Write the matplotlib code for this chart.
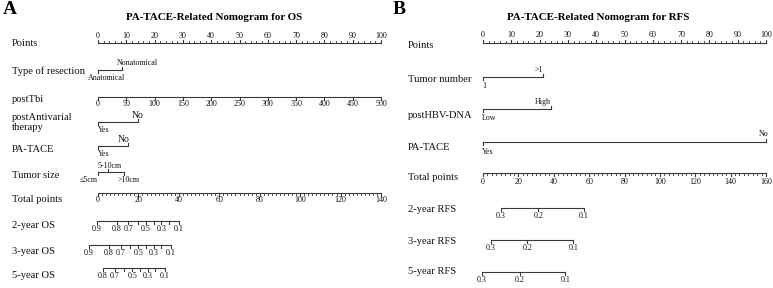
import numpy as np
import matplotlib
matplotlib.use("Agg")
import matplotlib.pyplot as plt
from matplotlib import transforms

plt.rcParams['font.family'] = ['Liberation Serif', 'DejaVu Serif']

# ---------------- data ----------------
points_ticks = list(range(0, 101, 10))

# Panel A (OS)
resection_levels = ['Anatomical', 'Nonatomical']
resection_points = [0, 8.5]
tbi_labels = [0, 50, 100, 150, 200, 250, 300, 350, 400, 450, 500]
tbi_points = [0, 10, 20, 30, 40, 50, 60, 70, 80, 90, 100]
antiviral_levels = ['Yes', 'No']
antiviral_points = [0, 14.1]
patace_a_levels = ['Yes', 'No']
patace_a_points = [0, 10.6]
size_levels = ['≤5cm', '5-10cm', '>10cm']
size_points = [0, 3.5, 9.2]
total_a_ticks = [0, 20, 40, 60, 80, 100, 120, 140]
os_probs = [0.9, 0.8, 0.7, 0.6, 0.5, 0.4, 0.3, 0.2, 0.1]
os2_total = [-0.7, 9.2, 15.0, 19.7, 23.8, 27.6, 31.4, 35.2, 40.0]
os3_total = [-4.5, 5.4, 11.2, 15.9, 20.0, 23.8, 27.6, 31.4, 36.2]
os5_probs = [0.8, 0.7, 0.6, 0.5, 0.4, 0.3, 0.2, 0.1]
os5_total = [2.4, 8.2, 12.9, 17.0, 20.8, 24.6, 28.4, 33.2]
os_labeled = [0.9, 0.8, 0.7, 0.5, 0.3, 0.1]

# Panel B (RFS)
tumor_number_levels = ['1', '>1']
tumor_number_points = [0, 21.3]
hbv_levels = ['Low', 'High']
hbv_points = [0, 24.1]
patace_b_levels = ['Yes', 'No']
patace_b_points = [0, 100]
total_b_ticks = [0, 20, 40, 60, 80, 100, 120, 140, 160]
rfs_probs = [0.3, 0.2, 0.1]
rfs2_total = [10.1, 31.3, 57.0]
rfs3_total = [4.5, 25.0, 51.0]
rfs5_total = [-0.5, 20.7, 46.5]

# ---------------- figure ----------------
W, H = 773, 288
fig = plt.figure(figsize=(W / 100, H / 100), dpi=100)
LC = '#3a3a3a'
LW = 0.8
FS_ROW = 7.6
FS_TICK = 5.8
FS_LEV = 5.8


def make_axes(x0, x1, xmax_pts, xmax_tot):
    ax = fig.add_axes([x0 / W, 0, (x1 - x0) / W, 1])
    ax.set_xlim(0, xmax_pts)
    ax.set_ylim(H, 0)
    ax.axis('off')
    at = ax.twiny()
    at.set_xlim(0, xmax_tot)
    at.set_ylim(H, 0)
    at.axis('off')
    return ax, at


def row_label(ax, xpix, y, text):
    tr = transforms.blended_transform_factory(fig.transFigure, ax.transData)
    ax.text(xpix / W, y, text, transform=tr, ha='left', va='center',
            fontsize=FS_ROW, color='#111111', clip_on=False)


def scale(ax, y, pos, labels, side, major_len=3.0, minor=None, minor_len=1.8,
          fs=FS_TICK, lab_off=6.5):
    ax.plot([min(pos), max(pos)], [y, y], color=LC, lw=LW, clip_on=False,
            solid_capstyle='butt')
    sgn = -1 if side == 'top' else 1
    if minor is not None:
        for m in minor:
            ax.plot([m, m], [y, y + sgn * minor_len], color=LC, lw=LW * 0.8,
                    clip_on=False)
    for p, lab in zip(pos, labels):
        ax.plot([p, p], [y, y + sgn * major_len], color=LC, lw=LW,
                clip_on=False)
        if lab != '':
            ax.text(p, y + sgn * lab_off, lab, ha='center', va='center',
                    fontsize=fs, color='#111111', clip_on=False)


def categorical(ax, y, pos, labels, sides, offs, sizes, tlen=3.0,
                above=7.0, below=8.5):
    ax.plot([min(pos), max(pos)], [y, y], color=LC, lw=LW, clip_on=False)
    for p, lab, s, o, fs in zip(pos, labels, sides, offs, sizes):
        sgn = -1 if s == 'top' else 1
        ax.plot([p, p], [y, y + sgn * tlen], color=LC, lw=LW, clip_on=False)
        d = above if s == 'top' else below
        ax.annotate(lab, (p, y + sgn * d), xytext=(o, 0),
                    textcoords='offset pixels', ha='center', va='center',
                    fontsize=fs, color='#111111', annotation_clip=False)


# ---------------- Panel A ----------------
axA, atA = make_axes(98, 381, 100, 140)
fig.text(3 / W, 1 - 10 / H, 'A', fontsize=14, fontweight='bold',
         ha='left', va='center')
fig.text(214 / W, 1 - 18 / H, 'PA-TACE-Related Nomogram for OS',
         fontsize=7.9, fontweight='bold', ha='center', va='center')

row_label(axA, 12, 44, 'Points')
scale(axA, 43, points_ticks, [str(v) for v in points_ticks], 'top',
      minor=list(range(0, 101, 2)), lab_off=6.5)

row_label(axA, 12, 71, 'Type of resection')
categorical(axA, 70, resection_points, resection_levels, ['bottom', 'top'],
            [9, 15], [FS_LEV, FS_LEV])

row_label(axA, 12, 99, 'postTbi')
scale(axA, 97, tbi_points, [str(v) for v in tbi_labels], 'bottom',
      lab_off=7)

row_label(axA, 12, 122.5, 'postAntivarial\ntherapy')
categorical(axA, 122, antiviral_points, antiviral_levels, ['bottom', 'top'],
            [6, 0], [FS_LEV, 7.0])

row_label(axA, 12, 150, 'PA-TACE')
categorical(axA, 146, patace_a_points, patace_a_levels, ['bottom', 'top'],
            [6, -4], [FS_LEV, 7.0])

row_label(axA, 12, 175, 'Tumor size')
categorical(axA, 172, size_points, size_levels, ['bottom', 'top', 'bottom'],
            [-9, 2, 5], [FS_LEV, FS_LEV, FS_LEV], above=6.5)

row_label(atA, 12, 199, 'Total points')
scale(atA, 193, total_a_ticks, [str(v) for v in total_a_ticks], 'bottom',
      minor=list(range(0, 141, 2)), lab_off=7.5)


def surv(ax, y, probs, tot, labeled):
    labs = [(f'{p:.1f}' if any(abs(p - q) < 1e-9 for q in labeled) else '')
            for p in probs]
    scale(ax, y, tot, labs, 'bottom', lab_off=8)


row_label(atA, 12, 226, '2-year OS')
surv(atA, 221, os_probs, os2_total, os_labeled)
row_label(atA, 12, 251, '3-year OS')
surv(atA, 245, os_probs, os3_total, os_labeled)
row_label(atA, 12, 276, '5-year OS')
surv(atA, 268, os5_probs, os5_total, os_labeled)

# ---------------- Panel B ----------------
axB, atB = make_axes(483, 766, 100, 160)
fig.text(393 / W, 1 - 10 / H, 'B', fontsize=14, fontweight='bold',
         ha='left', va='center')
fig.text(598 / W, 1 - 18 / H, 'PA-TACE-Related Nomogram for RFS',
         fontsize=7.9, fontweight='bold', ha='center', va='center')

row_label(axB, 408, 45, 'Points')
scale(axB, 43, points_ticks, [str(v) for v in points_ticks], 'top',
      minor=list(range(0, 101, 2)), lab_off=8)

row_label(axB, 408, 80, 'Tumor number')
categorical(axB, 77, tumor_number_points, tumor_number_levels,
            ['bottom', 'top'], [1, -4], [FS_LEV, FS_LEV])

row_label(axB, 408, 115, 'postHBV-DNA')
categorical(axB, 109, hbv_points, hbv_levels, ['bottom', 'top'],
            [6, -8], [FS_LEV, FS_LEV], below=9)

row_label(axB, 408, 147, 'PA-TACE')
categorical(axB, 142, patace_b_points, patace_b_levels, ['bottom', 'top'],
            [5, -2], [FS_LEV, FS_LEV], above=8.5, below=10)

row_label(atB, 408, 177, 'Total points')
scale(atB, 173, total_b_ticks, [str(v) for v in total_b_ticks], 'bottom',
      minor=list(np.arange(0, 160.1, 2.5)), lab_off=9)

for yl, yline, tot, name in [(209, 208, rfs2_total, '2-year RFS'),
                             (241, 240, rfs3_total, '3-year RFS'),
                             (272, 272, rfs5_total, '5-year RFS')]:
    row_label(atB, 408, yl, name)
    scale(atB, yline, tot, [f'{p:.1f}' for p in rfs_probs], 'bottom',
          lab_off=8.5)

fig.savefig('out.png', dpi=100)
